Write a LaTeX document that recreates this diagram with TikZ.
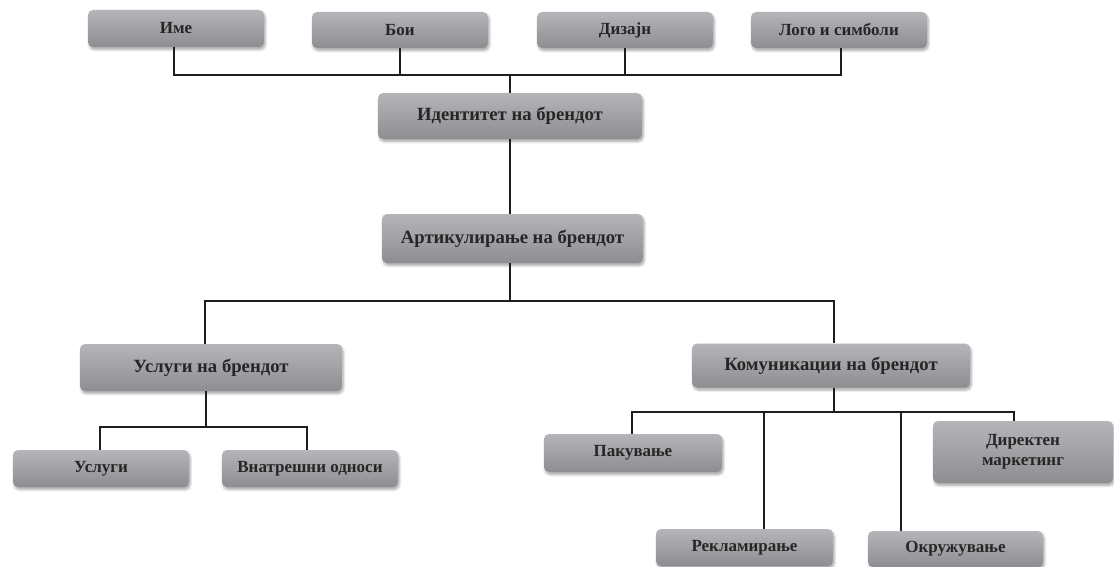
\documentclass[tikz,border=0pt]{standalone}
\usepackage{fontspec}
\setmainfont{Liberation Serif}
\usetikzlibrary{shadows.blur}
\definecolor{boxtop}{HTML}{B5B5B9}
\definecolor{boxbot}{HTML}{8E8E92}
\definecolor{ink}{HTML}{262626}
\definecolor{wire}{HTML}{1E1E1E}
\tikzset{
  box/.style={rounded corners=5pt, top color=boxtop, bottom color=boxbot,
    draw=none, text=ink, font=\fontsize{17}{20}\selectfont\bfseries,
    align=center, inner sep=2pt,
    blur shadow={shadow xshift=1.2pt, shadow yshift=-2.5pt,
      shadow opacity=35, shadow blur steps=6, shadow blur radius=2.5pt}},
  bigbox/.style={box, font=\fontsize{18.7}{21}\selectfont\bfseries},
  wirestyle/.style={draw=wire, line width=2pt}
}
\begin{document}
\begin{tikzpicture}[x=1pt, y=-1pt]
\useasboundingbox (0,0) rectangle (1114,567);

% top row: name, colours, design, logo
\node[box, minimum width=176, minimum height=37] (ime)    at (176,28.5)  {Име};
\node[box, minimum width=176, minimum height=36] (boi)    at (400,30)    {Бои};
\node[box, minimum width=176, minimum height=36] (dizajn) at (625,30)    {Дизајн};
\node[box, minimum width=176, minimum height=36] (logo)   at (839,30)    {Лого и симболи};

% central column
\node[bigbox, minimum width=264, minimum height=46] (ident)  at (510,116)   {Идентитет на брендот};
\node[bigbox, minimum width=261, minimum height=49] (artik)  at (512.5,238.5) {Артикулирање на брендот};

% second level
\node[bigbox, minimum width=262, minimum height=47] (uslbr)  at (211,367.5) {Услуги на брендот};
\node[bigbox, minimum width=278, minimum height=44] (komun)  at (831,365.5) {Комуникации на брендот};

% services branch
\node[box, minimum width=176, minimum height=37] (usl)    at (101,468.5) {Услуги};
\node[box, minimum width=176, minimum height=37] (vnatr)  at (310,468.5) {Внатрешни односи};

% communications branch
\node[box, minimum width=178, minimum height=38] (pak)    at (633,453)   {Пакување};
\node[box, minimum width=177, minimum height=37] (rekl)   at (744.5,547.5) {Рекламирање};
\node[box, minimum width=175, minimum height=36] (okr)    at (955.5,549) {Окружување};
\node[box, minimum width=180, minimum height=62] (dir)    at (1023,452)  {Директен\\маркетинг};

% bus coordinates
\coordinate (topbus) at (510,75);
\coordinate (midbus) at (510,301);
\coordinate (uslbus) at (206,427);
\coordinate (kombus) at (834,412);

% connectors of the top row
\draw[wirestyle] ([xshift=-2pt]ime.south) |- (topbus) -| ([xshift=2pt]logo.south);
\draw[wirestyle] (boi.south) -- (boi.south |- topbus);
\draw[wirestyle] (dizajn.south) -- (dizajn.south |- topbus);
\draw[wirestyle] (topbus) -- (ident.north);

% central column
\draw[wirestyle] (ident.south) -- (ident.south |- artik.north);
\draw[wirestyle] (artik.south -| midbus) -- (midbus);
\draw[wirestyle] ([xshift=-6pt]uslbr.north) |- (midbus) -| ([xshift=3pt]komun.north);

% services branch
\draw[wirestyle] (uslbr.south -| uslbus) -- (uslbus);
\draw[wirestyle] ([xshift=-1pt]usl.north) |- (uslbus) -| ([xshift=-3pt]vnatr.north);

% communications branch
\draw[wirestyle] (komun.south -| kombus) -- (kombus);
\draw[wirestyle] ([xshift=-1pt]pak.north) |- (kombus) -| ([xshift=-9pt]dir.north);
\draw[wirestyle] ([xshift=19.5pt]rekl.north) -- ([xshift=19.5pt]rekl.north |- kombus);
\draw[wirestyle] ([xshift=-54.5pt]okr.north) -- ([xshift=-54.5pt]okr.north |- kombus);
\end{tikzpicture}
\end{document}
